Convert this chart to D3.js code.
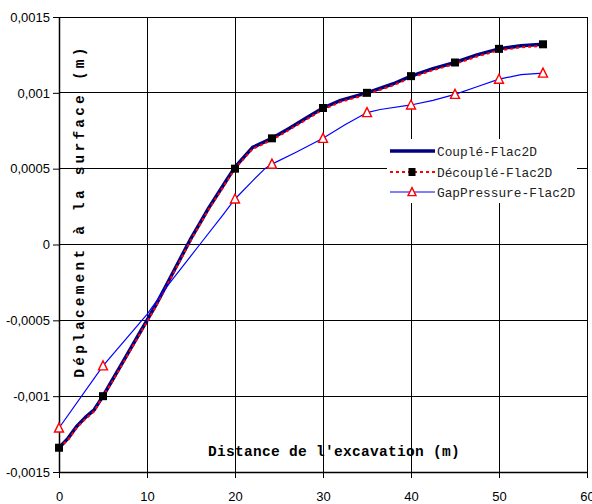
<!DOCTYPE html>
<html>
<head>
<meta charset="utf-8">
<script src="https://cdn.jsdelivr.net/npm/d3@7"></script>
<style>
  html, body { margin: 0; padding: 0; background: #fff; }
  svg { display: block; }
</style>
</head>
<body>
<svg id="chart" width="592" height="504"></svg>
<script>
// Distance from the excavation (m)
const xTicks = [0, 10, 20, 30, 40, 50, 60];
const yTicks = [-0.0015, -0.001, -0.0005, 0, 0.0005, 0.001, 0.0015];
const yTickLabels = ["-0,0015", "-0,001", "-0,0005", "0", "0,0005", "0,001", "0,0015"];

// Couplé-Flac2D : surface displacement (m)
const coupleX = [0, 1, 2, 3, 4, 5, 6, 7, 8, 9, 10, 11, 12, 13, 14, 15, 16, 17, 18, 19, 20, 22, 24.2, 26, 28, 30, 32, 35, 38, 40, 42.5, 45, 47.5, 50, 52.5, 55];
const coupleY = [-0.00134, -0.00128, -0.0012, -0.00114, -0.00109, -0.001, -0.0009, -0.0008, -0.0007, -0.0006, -0.0005, -0.0004, -0.00029, -0.00018, -0.00007, 0.00004, 0.00014, 0.00024, 0.00033, 0.00042, 0.00051, 0.00064, 0.0007, 0.00076, 0.00083, 0.0009, 0.00095, 0.001, 0.00106, 0.00111, 0.00116, 0.0012, 0.00125, 0.00129, 0.00131, 0.00132];

// Découplé-Flac2D
const decoupleX = [0, 1, 2, 3, 4, 5, 6, 7, 8, 9, 10, 11, 12, 13, 14, 15, 16, 17, 18, 19, 20, 22, 24.2, 26, 28, 30, 32, 35, 38, 40, 42.5, 45, 47.5, 50, 52.5, 55];
const decoupleY = [-0.00134, -0.00129, -0.00121, -0.00115, -0.0011, -0.001, -0.00091, -0.00081, -0.00071, -0.00061, -0.00051, -0.00041, -0.0003, -0.00019, -0.00008, 0.00003, 0.00013, 0.00023, 0.00032, 0.00041, 0.0005, 0.00063, 0.00069, 0.00075, 0.00082, 0.00089, 0.00094, 0.00099, 0.00105, 0.0011, 0.00115, 0.00119, 0.00124, 0.00128, 0.0013, 0.00131];
const decoupleMarkX = [0, 5, 20, 24.2, 30, 35, 40, 45, 50, 55];
const decoupleMarkY = [-0.00134, -0.001, 0.0005, 0.0007, 0.0009, 0.001, 0.00111, 0.0012, 0.00129, 0.00132];

// GapPressure-Flac2D
const gapX = [0, 5, 10, 12.5, 16, 18.7, 20, 22, 23.4, 24.2, 27, 30, 32.5, 35, 36.5, 40, 42.5, 45, 47.5, 50, 52.5, 55];
const gapY = [-0.00121, -0.0008, -0.00046, -0.00026, 0, 0.0002, 0.0003, 0.00042, 0.0005, 0.00053, 0.00061, 0.0007, 0.00079, 0.00087, 0.00089, 0.00092, 0.00095, 0.00099, 0.00104, 0.00109, 0.00112, 0.00113];
const gapMarkX = [0, 5, 20, 24.2, 30, 35, 40, 45, 50, 55];
const gapMarkY = [-0.00121, -0.0008, 0.0003, 0.00053, 0.0007, 0.00087, 0.00092, 0.00099, 0.00109, 0.00113];

const seriesNames = ["Couplé-Flac2D", "Découplé-Flac2D", "GapPressure-Flac2D"];

const svg = d3.select("#chart");
const plot = { left: 59, right: 587, top: 17, bottom: 472 };

const x = d3.scaleLinear().domain([0, 60]).range([plot.left, plot.right]);
const y = d3.scaleLinear().domain([-0.0015, 0.0015]).range([plot.bottom, plot.top]);

const zip = (xs, ys) => xs.map((d, i) => [d, ys[i]]);

// grid
const grid = svg.append("g").attr("shape-rendering", "crispEdges");
grid.selectAll("line.v").data(xTicks.slice(1)).join("line")
  .attr("x1", d => x(d)).attr("x2", d => x(d))
  .attr("y1", plot.top).attr("y2", plot.bottom)
  .attr("stroke", "#000").attr("stroke-width", 1);
grid.selectAll("line.h").data(yTicks.slice(1)).join("line")
  .attr("x1", plot.left).attr("x2", plot.right)
  .attr("y1", d => y(d)).attr("y2", d => y(d))
  .attr("stroke", "#000").attr("stroke-width", 1);

// axes
const xAxis = svg.append("g")
  .attr("transform", `translate(0,${plot.bottom})`)
  .call(d3.axisBottom(x).tickValues(xTicks).tickSize(6).tickPadding(14).tickSizeOuter(0));
const yAxis = svg.append("g")
  .attr("transform", `translate(${plot.left},0)`)
  .call(d3.axisLeft(y).tickValues(yTicks).tickSize(6).tickPadding(3).tickSizeOuter(0)
    .tickFormat((d, i) => yTickLabels[i]));
[xAxis, yAxis].forEach(a => {
  a.select(".domain").attr("stroke", "#000").attr("stroke-width", 1.5);
  a.selectAll(".tick line").attr("stroke", "#000").attr("stroke-width", 1);
  a.selectAll("text").attr("fill", "#000")
    .style("font-family", "'Liberation Sans', Arial, sans-serif").style("font-size", "13px");
});

// axis titles
const titleFont = "'Liberation Mono', 'Courier New', monospace";
svg.append("text")
  .attr("x", 334).attr("y", 456)
  .attr("text-anchor", "middle")
  .style("font-family", titleFont).style("font-weight", "bold")
  .style("font-size", "14.5px").style("letter-spacing", "0.3px")
  .text("Distance de l'excavation (m)");
svg.append("text")
  .attr("transform", "translate(84,211) rotate(-90)")
  .attr("text-anchor", "middle")
  .style("font-family", titleFont).style("font-weight", "bold")
  .style("font-size", "14.5px").style("letter-spacing", "3.2px")
  .text("Déplacement à la surface (m)");

// series
const line = d3.line().x(d => x(d[0])).y(d => y(d[1]));
const series = svg.append("g");

series.append("path").datum(zip(coupleX, coupleY))
  .attr("d", line).attr("fill", "none")
  .attr("stroke", "#000080").attr("stroke-width", 3.5).attr("stroke-linejoin", "round");

series.append("path").datum(zip(decoupleX, decoupleY))
  .attr("d", line).attr("fill", "none")
  .attr("stroke", "#ff0000").attr("stroke-width", 2).attr("stroke-dasharray", "3,3");

series.append("path").datum(zip(gapX, gapY))
  .attr("d", line).attr("fill", "none")
  .attr("stroke", "#0000ff").attr("stroke-width", 1.2);

const sq = 8;
series.selectAll("rect.mk").data(zip(decoupleMarkX, decoupleMarkY)).join("rect")
  .attr("x", d => x(d[0]) - sq / 2).attr("y", d => y(d[1]) - sq / 2)
  .attr("width", sq).attr("height", sq).attr("fill", "#000");

const tri = (cx, cy, s) => `M${cx},${cy - s * 0.55}L${cx + s * 0.5},${cy + s * 0.45}L${cx - s * 0.5},${cy + s * 0.45}Z`;
series.selectAll("path.tri").data(zip(gapMarkX, gapMarkY)).join("path")
  .attr("d", d => tri(x(d[0]), y(d[1]), 9))
  .attr("fill", "#fff").attr("stroke", "#ff0000").attr("stroke-width", 1.4);

// legend
const legend = svg.append("g");
legend.append("rect").attr("x", 387).attr("y", 139).attr("width", 190).attr("height", 64).attr("fill", "#fff");
const rows = [151, 172, 192];
const lx0 = 390, lx1 = 435;
legend.append("line").attr("x1", lx0).attr("x2", lx1).attr("y1", rows[0]).attr("y2", rows[0])
  .attr("stroke", "#000080").attr("stroke-width", 3.5);
legend.append("line").attr("x1", lx0).attr("x2", lx1).attr("y1", rows[1]).attr("y2", rows[1])
  .attr("stroke", "#ff0000").attr("stroke-width", 2).attr("stroke-dasharray", "3,3");
legend.append("rect").attr("x", 412 - 3.5).attr("y", rows[1] - 4).attr("width", 7).attr("height", 8).attr("fill", "#000");
legend.append("line").attr("x1", lx0).attr("x2", lx1).attr("y1", rows[2]).attr("y2", rows[2])
  .attr("stroke", "#0000ff").attr("stroke-width", 1.2);
legend.append("path").attr("d", tri(412, rows[2], 8))
  .attr("fill", "#fff").attr("stroke", "#ff0000").attr("stroke-width", 1.4);
legend.selectAll("text.lg").data(seriesNames).join("text")
  .attr("x", 437).attr("y", (d, i) => rows[i] + 4.5)
  .style("font-family", titleFont).style("font-size", "12.8px").attr("fill", "#222")
  .text(d => d);
</script>
</body>
</html>
